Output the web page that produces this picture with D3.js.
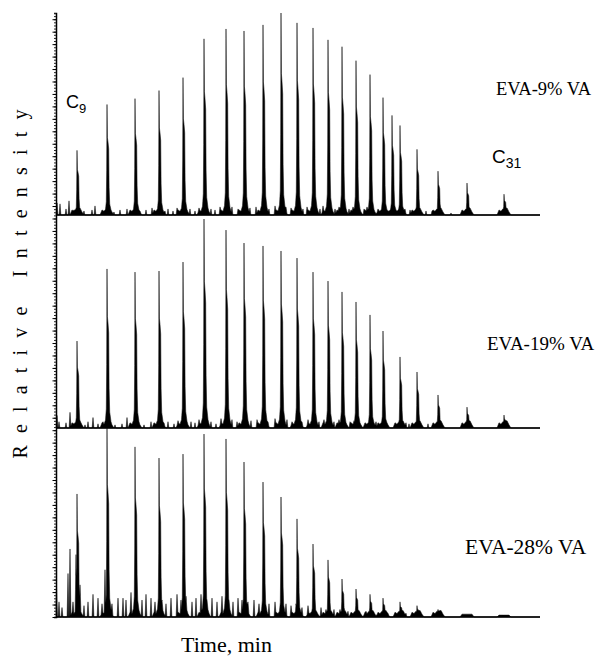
<!DOCTYPE html>
<html>
<head>
<meta charset="utf-8">
<script src="https://cdn.jsdelivr.net/npm/d3@7"></script>
<style>
  html, body { margin: 0; padding: 0; background: #fff; }
  svg { display: block; }
</style>
</head>
<body>
<svg id="chart" width="597" height="658"></svg>
<script>
// ---------------- DATA ----------------
// retention times (min) of the n-alkane/alkene peak series
const peakTimes = [2.1, 5.1, 7.9, 10.3, 12.7, 14.8, 17.0, 18.8, 20.7, 22.5, 24.1, 25.7,
                   27.2, 28.6, 30.0, 31.4, 32.7, 33.6, 34.4, 36.1, 38.2, 41.1, 44.8];
// relative peak intensities (%) for each sample
const eva9  = [32, 54.7, 57.6, 61.6, 68, 87.2, 92.1, 91.1, 94.1, 100, 95.1, 92.6,
               86.7, 83.3, 76.4, 69.5, 58.1, 49.3, 44.3, 32.5, 21.7, 15.8, 10.3];
const eva19 = [41.6, 76.1, 74.6, 75.1, 79.4, 100, 94.7, 88.5, 87.1, 84.7, 81.3, 74.6,
               70.3, 65.1, 60.3, 54.1, 46.4, 0, 34.0, 26.8, 15.8, 10.0, 6.2];
const eva28 = [65.1, 100, 90, 84.1, 86.2, 96.8, 94.2, 82, 71.4, 63.5, 51.9, 38.6,
               30.2, 20.1, 14.8, 12, 10, 0, 8, 6, 4, 1.5, 1];
// small baseline features [time, relative intensity %]
const noise9 = [[0.1,6],[0.4,5.5],[1.0,3],[1.3,7],[1.8,2.5],[2.8,2],[3.6,2.5],[3.9,4.5],[4.6,2],[5.8,1.5],
  [6.4,2.5],[7.1,3],[8.4,2],[9.0,2.5],[9.6,3.5],[10.9,2],[11.2,3],[11.7,2],[12.1,3.5],[13.4,3],[13.9,2],
  [14.3,3.5],[15.5,3],[15.9,2.5],[16.4,4],[17.6,4],[18.2,3],[19.4,3.5],[20.0,4],[21.3,3],[21.9,4.5],
  [23.0,4],[23.5,3.5],[24.7,3],[25.1,4],[26.4,3],[26.7,4.5],[27.9,3],[28.3,4],[29.3,3],[29.7,4],
  [30.8,3],[31.1,4],[32.2,3],[34.9,3],[35.4,2.5],[37.0,2],[37.6,2],[39.5,1]];
const noise19 = [[0.1,6],[0.3,3],[1.0,2.5],[1.4,7.5],[1.8,2],[2.9,1.5],[3.2,3],[3.7,5],[4.2,2],[4.7,3],
  [5.9,1.5],[6.6,2],[7.1,5],[8.3,2],[8.8,1.5],[9.5,3],[10.8,2.5],[11.2,3],[11.8,2],[12.2,3.5],[13.5,3],
  [13.9,2.5],[14.3,4],[15.5,3],[16.0,2],[16.5,4.5],[17.6,4],[18.1,3],[19.5,3.5],[20.1,4],[21.2,3],
  [21.9,4.5],[23.1,4],[23.6,3],[24.6,3],[25.2,4],[26.3,3],[26.8,4],[27.8,3],[28.3,4],[29.4,3],
  [29.8,3.5],[30.9,2.5],[32.0,3],[35.0,2.5],[35.3,2],[37.2,2]];
const noise28 = [[0.05,16],[0.3,8],[0.6,5],[1.2,23],[1.4,36],[1.7,8],[2.0,33],[2.4,17],[2.8,6],[3.2,8],
  [3.7,12],[4.2,10],[4.6,7],[4.9,25],[5.3,22],[5.6,7],[6.2,10],[6.7,10],[7.0,9],[7.5,13],[8.1,8],
  [8.6,9],[9.0,12],[9.5,10],[9.9,8],[10.6,9],[11.0,7],[11.5,10],[12.1,12],[12.5,9],[13.0,11],[13.6,8],
  [14.0,10],[14.5,12],[15.1,9],[15.6,10],[16.1,8],[16.6,11],[17.3,9],[17.7,8],[18.2,10],[18.6,9],
  [19.2,8],[19.8,9],[20.3,7],[20.9,8],[21.3,7],[21.9,8],[22.4,6],[23.0,7],[23.5,6],[24.0,7],[24.6,5],
  [25.2,6],[25.9,5],[26.5,5],[27.0,4],[27.8,4],[28.4,4],[29.2,3],[30.0,3],[31.0,3],[32.3,2],[33.2,2],
  [35.0,2],[36.5,1.5]];
const sampleLabels = ["EVA-9% VA", "EVA-19% VA", "EVA-28% VA"];
const firstLabel = ["C", "9"];
const lastLabel = ["C", "31"];
const xTitle = "Time, min";
const yTitle = "Relative Intensity";

// ---------------- LAYOUT ----------------
const svg = d3.select("#chart");
const x = d3.scaleLinear().domain([0, 48.4]).range([56, 540]);
const panels = [
  { heights: eva9,  noise: noise9,  y: d3.scaleLinear().domain([0, 100]).range([215, 13]) },
  { heights: eva19, noise: noise19, y: d3.scaleLinear().domain([0, 100]).range([428, 219]) },
  { heights: eva28, noise: noise28, y: d3.scaleLinear().domain([0, 100]).range([617, 428]) }
];

// peak profile: [time offset (min), fraction of peak height]
const peakShape = [[-0.5,0],[-0.3,0.02],[-0.15,0.05],[-0.07,0.12],[-0.03,0.4],[0,1],[0.04,0.7],
                   [0.1,0.66],[0.17,0.6],[0.21,0.25],[0.27,0.1],[0.4,0.04],[0.6,0]];
// base hump under each peak: [time offset, absolute %]
const humpShape = [[-0.7,0],[-0.5,2.5],[-0.3,1.8],[-0.12,3],[0.3,3.5],[0.5,1.5],[0.7,0]];
const spikeShape = [[-0.09,0],[0,1],[0.09,0]];

function evalProfile(f, t) {
  const p = f.pts;
  if (t <= p[0][0] || t >= p[p.length - 1][0]) return 0;
  for (let i = 1; i < p.length; i++) {
    if (t <= p[i][0]) {
      const a = p[i - 1], b = p[i];
      return a[1] + (b[1] - a[1]) * (t - a[0]) / (b[0] - a[0]);
    }
  }
  return 0;
}

panels.forEach(panel => {
  const feats = [];
  peakTimes.forEach((t, i) => {
    const h = panel.heights[i];
    if (h <= 0) return;
    feats.push({ pts: peakShape.map(([dt, f]) => [t + dt, f * h]) });
    feats.push({ pts: humpShape.map(([dt, a]) => [t + dt, Math.min(a, h)]) });
  });
  panel.noise.forEach(([t, h]) => {
    feats.push({ pts: spikeShape.map(([dt, f]) => [t + dt, f * h]) });
  });
  let ts = [0, 48.4];
  feats.forEach(f => f.pts.forEach(p => ts.push(p[0])));
  ts = Array.from(new Set(ts.map(t => +t.toFixed(4)))).filter(t => t >= 0 && t <= 48.4).sort((a, b) => a - b);
  const trace = ts.map(t => ({ t, v: d3.max(feats, f => evalProfile(f, t)) || 0 }));

  const area = d3.area()
    .x(d => x(d.t))
    .y0(panel.y(0))
    .y1(d => panel.y(d.v));
  svg.append("path")
    .datum(trace)
    .attr("d", area)
    .attr("fill", "#000")
    .attr("stroke", "#111")
    .attr("stroke-width", 0.55)
    .attr("stroke-linejoin", "miter");

  // baseline
  svg.append("line")
    .attr("x1", x(0)).attr("x2", x(48.4))
    .attr("y1", panel.y(0)).attr("y2", panel.y(0))
    .attr("stroke", "#000").attr("stroke-width", 1.5);
});

// left intensity axis with dense minor ticks
const axisScale = d3.scaleLinear().domain([0, 194]).range([617, 13]);
svg.append("g")
  .attr("transform", "translate(56,0)")
  .call(d3.axisLeft(axisScale).tickValues(d3.range(0, 195, 1)).tickSize(2).tickFormat(""))
  .call(g => g.select(".domain").attr("stroke-width", 1.5))
  .call(g => g.selectAll(".tick line").attr("stroke", "#222"));
svg.append("g")
  .attr("transform", "translate(56,0)")
  .call(d3.axisLeft(axisScale).tickValues(d3.range(0, 195, 4)).tickSize(3.5).tickFormat(""))
  .call(g => g.select(".domain").remove());

// sample labels
const serif = "'Liberation Serif', 'Times New Roman', serif";
const sans = "'Liberation Sans', Arial, sans-serif";
const labelPos = [[496, 95, 18.5], [487, 350, 19], [465, 554, 21.5]];
sampleLabels.forEach((s, i) => {
  svg.append("text")
    .attr("x", labelPos[i][0]).attr("y", labelPos[i][1])
    .attr("font-family", serif).attr("font-size", labelPos[i][2])
    .attr("fill", "#000")
    .text(s);
});

// carbon number labels
function carbon(lbl, xx, yy, fs, sfs) {
  const t = svg.append("text").attr("x", xx).attr("y", yy)
    .attr("font-family", sans).attr("font-size", fs).attr("fill", "#000");
  t.append("tspan").text(lbl[0]);
  t.append("tspan").attr("font-size", sfs).attr("dy", 5).text(lbl[1]);
}
carbon(firstLabel, 66, 108, 18, 13);
carbon(lastLabel, 492, 163, 19, 14);

// axis titles
svg.append("text")
  .attr("transform", "translate(27,278) rotate(-90)")
  .attr("text-anchor", "middle")
  .attr("font-family", serif).attr("font-size", 20)
  .attr("letter-spacing", 12.2)
  .attr("fill", "#000")
  .text(yTitle);
svg.append("text")
  .attr("x", 181).attr("y", 652)
  .attr("font-family", serif).attr("font-size", 22)
  .attr("fill", "#000")
  .text(xTitle);
</script>
</body>
</html>
